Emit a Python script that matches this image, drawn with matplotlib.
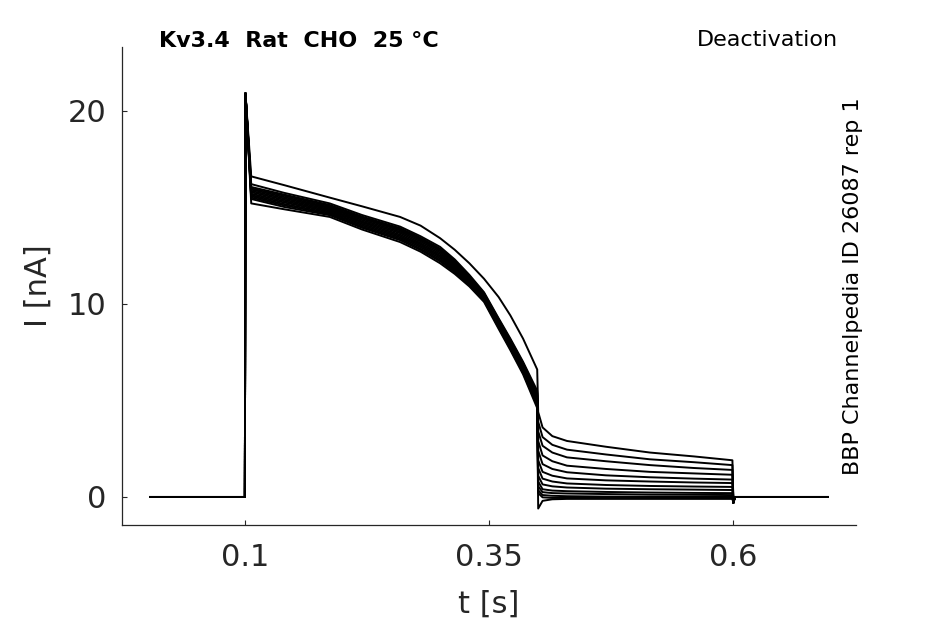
import numpy as np
import matplotlib.pyplot as plt

# sweep timing (s)
t_pre = [0.003, 0.05, 0.0995]
t_step = [0.1, 0.1006, 0.1065, 0.14, 0.187, 0.22, 0.259, 0.28, 0.30, 0.315,
          0.33, 0.345, 0.36, 0.372, 0.385, 0.3995]
t_tail = [0.4005, 0.405, 0.415, 0.43, 0.47, 0.515, 0.56, 0.5995]
t_post = [0.6005, 0.602, 0.65, 0.697]

# currents (nA)
i_pre = [0.0, 0.0, 0.0]
i_spike = [0.0, 20.9]
# one row per sweep, values at t_step[2:]
i_step = [
    [16.6, 16.15, 15.5, 15.05, 14.5, 14.05, 13.4, 12.8, 12.1, 11.3, 10.35, 9.4, 8.2, 6.6],
    [16.2, 15.75, 15.2, 14.6, 14.0, 13.5, 12.95, 12.3, 11.5, 10.6, 9.25, 8.2, 7.0, 5.5],
    [16.05, 15.66, 15.12, 14.52, 13.92, 13.42, 12.86, 12.22, 11.44, 10.55, 9.2, 8.14, 6.93, 5.4],
    [15.98, 15.6, 15.06, 14.47, 13.86, 13.36, 12.8, 12.17, 11.4, 10.52, 9.16, 8.1, 6.88, 5.35],
    [15.92, 15.53, 15.0, 14.41, 13.8, 13.3, 12.74, 12.11, 11.35, 10.47, 9.11, 8.05, 6.83, 5.27],
    [15.85, 15.46, 14.95, 14.34, 13.73, 13.23, 12.66, 12.04, 11.29, 10.43, 9.06, 8.0, 6.77, 5.2],
    [15.78, 15.39, 14.89, 14.27, 13.66, 13.15, 12.58, 11.98, 11.24, 10.38, 9.01, 7.94, 6.71, 5.12],
    [15.7, 15.32, 14.83, 14.21, 13.58, 13.08, 12.5, 11.91, 11.18, 10.34, 8.96, 7.89, 6.66, 5.04],
    [15.63, 15.25, 14.77, 14.14, 13.51, 13.01, 12.43, 11.84, 11.13, 10.29, 8.91, 7.83, 6.6, 4.96],
    [15.57, 15.17, 14.71, 14.07, 13.44, 12.94, 12.35, 11.77, 11.07, 10.25, 8.86, 7.78, 6.54, 4.88],
    [15.5, 15.1, 14.65, 14.0, 13.37, 12.86, 12.27, 11.7, 11.02, 10.2, 8.81, 7.72, 6.48, 4.8],
    [15.43, 15.02, 14.59, 13.94, 13.3, 12.79, 12.2, 11.63, 10.96, 10.16, 8.77, 7.67, 6.42, 4.72],
    [15.2, 14.9, 14.5, 13.85, 13.2, 12.7, 12.1, 11.55, 10.9, 10.1, 8.7, 7.6, 6.35, 4.6],
]
# tail currents, one row per sweep, values at t_tail
i_tail = [
    [4.4, 3.6, 3.15, 2.9, 2.6, 2.3, 2.1, 1.9],
    [3.9, 3.1, 2.7, 2.45, 2.2, 1.95, 1.8, 1.65],
    [3.4, 2.65, 2.3, 2.05, 1.85, 1.65, 1.5, 1.4],
    [2.9, 2.15, 1.85, 1.62, 1.45, 1.3, 1.22, 1.15],
    [2.4, 1.7, 1.45, 1.28, 1.12, 1.02, 0.95, 0.9],
    [1.9, 1.3, 1.1, 0.96, 0.86, 0.8, 0.75, 0.72],
    [1.5, 0.95, 0.8, 0.7, 0.62, 0.57, 0.54, 0.52],
    [1.1, 0.65, 0.55, 0.49, 0.43, 0.4, 0.38, 0.36],
    [0.8, 0.4, 0.33, 0.3, 0.26, 0.23, 0.21, 0.2],
    [0.55, 0.25, 0.2, 0.18, 0.15, 0.12, 0.11, 0.1],
    [0.35, 0.1, 0.06, 0.04, 0.02, 0.01, 0.0, 0.0],
    [0.2, -0.02, -0.05, -0.05, -0.05, -0.05, -0.05, -0.05],
    [-0.6, -0.2, -0.12, -0.1, -0.1, -0.1, -0.1, -0.1],
]
i_post = [-0.3, 0.0, 0.0, 0.0]

x_ticks = [0.1, 0.35, 0.6]
x_tick_labels = ['0.1', '0.35', '0.6']
y_ticks = [0, 10, 20]

title = 'Kv3.4  Rat  CHO  25 °C'
protocol = 'Deactivation'
source = 'BBP Channelpedia ID 26087 rep 1'

dark = '#262626'

fig = plt.figure(figsize=(9.45, 6.24), dpi=100)
ax = fig.add_axes([0.129, 0.1587, 0.7767, 0.766])

t_all = np.concatenate([t_pre, t_step, t_tail, t_post])
for step, tail in zip(i_step, i_tail):
    trace = np.concatenate([i_pre, i_spike, step, tail, i_post])
    ax.plot(t_all, trace, color='black', lw=1.4)

ax.set_xlim(-0.026, 0.726)
ax.set_ylim(-1.45, 23.3)
ax.set_xticks(x_ticks)
ax.set_xticklabels(x_tick_labels)
ax.set_yticks(y_ticks)

for side in ['top', 'right']:
    ax.spines[side].set_visible(False)
for side in ['left', 'bottom']:
    ax.spines[side].set_color(dark)
    ax.spines[side].set_linewidth(0.9)

ax.tick_params(axis='both', direction='in', length=3.5, width=0.8,
               colors=dark, labelsize=22)
ax.tick_params(axis='x', pad=13)
ax.tick_params(axis='y', pad=11)

ax.set_xlabel('t [s]', fontsize=22, color=dark)
ax.set_ylabel('I [nA]', fontsize=22, color=dark)
ax.xaxis.set_label_coords(0.5, -0.135)
ax.yaxis.set_label_coords(-0.094, 0.5)

fig.text(159 / 945, 1 - 46.7 / 624, title, fontsize=16, fontweight='bold',
         ha='left', va='baseline')
fig.text(838 / 945, 1 - 46 / 624, protocol, fontsize=16,
         ha='right', va='baseline')
fig.text(863 / 945, 1 - 286 / 624, source, fontsize=16, rotation=90,
         ha='right', va='center')

fig.savefig('out.png', dpi=100, facecolor='white')
